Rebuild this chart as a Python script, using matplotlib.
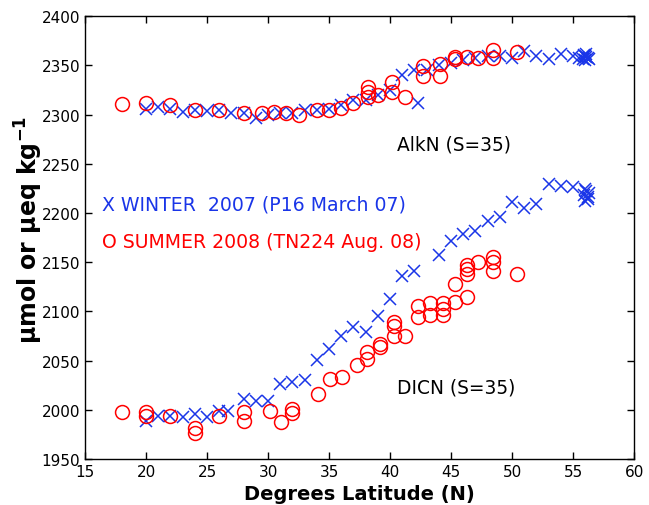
import matplotlib
matplotlib.use("Agg")
import matplotlib.pyplot as plt

# AlkN winter 2007 (blue x)
alk_w_lat = [20, 21, 22, 23, 24, 25, 26, 27, 28, 29, 30, 31, 32, 33, 34, 35, 36, 37, 38, 39,
             40, 41, 42, 42.3, 43, 44, 45, 46, 47, 48, 49, 50, 51, 52, 53, 54, 55, 55.5,
             55.8, 56, 56, 56.1, 56.2, 56.3, 55.9, 56.1]
alk_w_val = [2306, 2308, 2306, 2303, 2305, 2304, 2305, 2302, 2302, 2297, 2300, 2302, 2302, 2305,
             2305, 2306, 2310, 2315, 2315, 2320, 2325, 2340, 2345, 2312, 2345, 2350, 2352, 2355,
             2358, 2360, 2360, 2358, 2365, 2360, 2356, 2362, 2360, 2358,
             2357, 2360, 2355, 2362, 2358, 2356, 2361, 2359]

# AlkN summer 2008 (red o)
alk_s_lat = [18, 20, 22, 24, 26, 28, 29.5, 30.5, 31.5, 32.5, 34, 35, 36, 37, 38.2, 38.2, 38.2,
             39, 40.2, 40.2, 41.2, 42.7, 42.7, 44.1, 44.1, 45.3, 45.3, 46.3, 47.2, 48.4, 48.4, 50.4]
alk_s_val = [2311, 2312, 2310, 2305, 2305, 2302, 2302, 2303, 2302, 2300, 2305, 2305, 2307, 2312,
             2318, 2323, 2328, 2320, 2333, 2323, 2318, 2339, 2349, 2351, 2339, 2359, 2356, 2359,
             2358, 2366, 2358, 2364]

# DICN winter 2007 (blue x)
dic_w_lat = [20, 21, 22, 23, 24, 25, 26, 26.7, 28, 29, 30, 31, 32, 33, 34, 35, 36, 37, 38, 39,
             40, 41, 42, 44, 45, 46, 47, 48, 49, 50, 51, 52, 53, 54, 55, 56,
             56.2, 56.0, 56.3, 55.9, 56.1, 56.2]
dic_w_val = [1989, 1994, 1994, 1993, 1996, 1993, 1999, 1999, 2011, 2009, 2009, 2026, 2028, 2030,
             2051, 2062, 2075, 2084, 2079, 2095, 2113, 2136, 2141, 2157, 2172, 2179, 2182, 2192,
             2196, 2211, 2205, 2209, 2229, 2227, 2226, 2224,
             2216, 2212, 2220, 2218, 2222, 2214]

# DICN summer 2008 (red o)
dic_s_lat = [18, 20, 20, 22, 24, 24, 26, 28, 28, 30.2, 31.1, 32, 32, 34.1, 35.1, 36.1, 37.3,
             38.1, 38.1, 39.2, 39.2, 40.3, 40.3, 40.3, 41.2, 42.3, 42.3, 43.3, 43.3, 44.3, 44.3,
             44.3, 45.3, 46.3, 45.3, 46.3, 46.3, 46.3, 47.2, 48.4, 48.4, 48.4, 50.4]
dic_s_val = [1998, 1998, 1994, 1994, 1981, 1976, 1994, 1998, 1989, 1999, 1988, 2001, 1997, 2016,
             2031, 2033, 2045, 2059, 2052, 2064, 2067, 2075, 2085, 2089, 2075, 2094, 2105, 2096,
             2108, 2096, 2109, 2102, 2110, 2115, 2128, 2138, 2143, 2147, 2150, 2155, 2150, 2141,
             2138]

xticks = [15, 20, 25, 30, 35, 40, 45, 50, 55, 60]
yticks = [1950, 2000, 2050, 2100, 2150, 2200, 2250, 2300, 2350, 2400]

blue = '#1a35e8'
red = '#ff0000'

fig = plt.figure(figsize=(6.49, 5.06), dpi=100)
ax = fig.add_axes([0.131, 0.091, 0.846, 0.875])

ax.plot(alk_w_lat, alk_w_val, 'x', color=blue, ms=8.5, mew=1.1, ls='none')
ax.plot(dic_w_lat, dic_w_val, 'x', color=blue, ms=8.5, mew=1.1, ls='none')
ax.plot(alk_s_lat, alk_s_val, 'o', mfc='none', mec=red, ms=10, mew=1.1, ls='none')
ax.plot(dic_s_lat, dic_s_val, 'o', mfc='none', mec=red, ms=10, mew=1.1, ls='none')

ax.set_xlim(15, 60)
ax.set_ylim(1950, 2400)
ax.set_xticks(xticks)
ax.set_yticks(yticks)
ax.tick_params(direction='in', top=True, right=True, labelsize=11, length=5, width=1)
for s in ax.spines.values():
    s.set_linewidth(1)

ax.text(40.6, 2270, 'AlkN (S=35)', fontsize=13.4, color='black', va='center', ha='left')
ax.text(40.6, 2023, 'DICN (S=35)', fontsize=13.4, color='black', va='center', ha='left')
ax.text(16.4, 2209, 'X WINTER  2007 (P16 March 07)', fontsize=13.6, color=blue,
        va='center', ha='left')
ax.text(16.4, 2171, 'O SUMMER 2008 (TN224 Aug. 08)', fontsize=13.6, color=red,
        va='center', ha='left')

ax.set_xlabel('Degrees Latitude (N)', fontsize=14, fontweight='bold', labelpad=4)
ax.set_ylabel('µmol or µeq kg$^{\\mathbf{-1}}$', fontsize=17, fontweight='bold')
ax.yaxis.set_label_coords(-0.072, 0.52)

fig.savefig('out.png', dpi=100)
